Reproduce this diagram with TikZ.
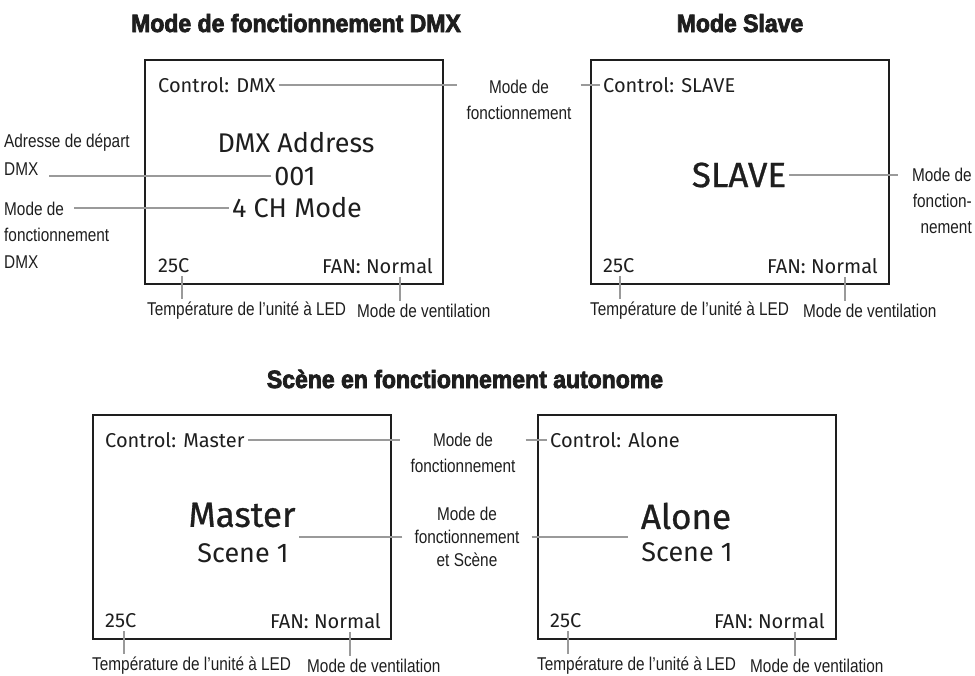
\documentclass[tikz,border=0pt]{standalone}
\usepackage{fontspec}
\setmainfont{Liberation Sans}
\newfontfamily\titlefont[FakeStretch=0.92,BoldFeatures={FakeBold=3}]{Liberation Sans}
\newfontfamily\lblfont[FakeStretch=0.83]{Liberation Sans}
\newfontfamily\lcdfont{Fira Sans}
\newfontfamily\lcdheavy[FakeBold=0.8]{Fira Sans}
\usepackage{xcolor}
\definecolor{leadgray}{HTML}{9A9A9A}
\definecolor{ink}{HTML}{1E1E1E}

\begin{document}
\begin{tikzpicture}[x=1pt,y=-1pt,
	lcd/.style={draw=ink,line width=2.6pt,minimum width=298pt,minimum height=224pt,inner sep=0pt},
	lcdsmall/.style={font=\lcdfont\fontsize{20}{24}\selectfont,text=ink,inner sep=3pt},
	lcdmid/.style={font=\lcdfont\fontsize{27}{32}\selectfont,text=ink,inner sep=3pt},
	lcdbig/.style={font=\lcdheavy\fontsize{35}{40}\selectfont,text=ink,inner sep=3pt},
	lbl/.style={font=\lblfont\fontsize{18.5}{26}\selectfont,text=ink,inner sep=3pt},
	heading/.style={font=\titlefont\bfseries\fontsize{25}{28}\selectfont,text=ink,anchor=base},
	conn/.style={draw=leadgray,line width=2pt}]
	\useasboundingbox (0,0) rectangle (975,675);
	% titles
	\node[heading] (headDMX) at (296,32) {Mode de fonctionnement DMX};
	\node[heading] (headSlave) at (740,32) {Mode Slave};
	\node[heading] (headAuto) at (465,388) {Scène en fonctionnement autonome};
	% DMX panel
	\node[lcd] (box1) at (294,172) {};
	\node[lcdsmall,anchor=west] (ctrl1) at (155,85) {Control: DMX};
	\node[lcdmid] (addr1) at (296,143) {DMX Address};
	\node[lcdmid] (num1) at (295,176) {001};
	\node[lcdmid] (mode1) at (297,208) {4 CH Mode};
	\node[lcdsmall,anchor=west] (temp1) at (155,266) {25C};
	\node[lcdsmall,anchor=east] (fan1) at (436,266) {FAN: Normal};
	\node[lbl,anchor=west,inner xsep=10pt] (lblA1) at (-6,143) {Adresse de départ};
	\node[lbl,anchor=west,inner xsep=10pt] (lblA2) at (-6,169) {DMX};
	\node[lbl,anchor=west,inner xsep=10pt] (lblM1) at (-6,209) {Mode de};
	\node[lbl,anchor=west,inner xsep=10pt] (lblM2) at (-6,235) {fonctionnement};
	\node[lbl,anchor=west,inner xsep=10pt] (lblM3) at (-6,262) {DMX};
	\node[lbl,anchor=west] (tl1) at (144,311) {Température de l’unité à LED};
	\node[lbl,anchor=west] (vl1) at (354,311) {Mode de ventilation};
	% Slave panel
	\node[lcd] (box2) at (740,172) {};
	\node[lcdsmall,anchor=west] (ctrl2) at (600,85) {Control: SLAVE};
	\node[lcdbig] (slave2) at (739,175) {SLAVE};
	\node[lcdsmall,anchor=west] (temp2) at (600,266) {25C};
	\node[lcdsmall,anchor=east] (fan2) at (881,266) {FAN: Normal};
	\node[lbl,anchor=east,align=right,inner xsep=14pt] (lblS) at (986,201) {Mode de\\fonction-\\nement};
	\node[lbl,anchor=west] (tl2) at (587,311) {Température de l’unité à LED};
	\node[lbl,anchor=west] (vl2) at (800,311) {Mode de ventilation};
	\node[lbl,align=center,inner xsep=9pt] (lblC12) at (519,100) {Mode de\\fonctionnement};
	% Master panel
	\node[lcd] (box3) at (242,527) {};
	\node[lcdsmall,anchor=west] (ctrl3) at (102,440) {Control: Master};
	\node[lcdbig] (big3) at (242,515) {Master};
	\node[lcdmid] (scene3) at (243,553) {Scene 1};
	\node[lcdsmall,anchor=west] (temp3) at (102,621) {25C};
	\node[lcdsmall,anchor=east] (fan3) at (384,621) {FAN: Normal};
	\node[lbl,anchor=west] (tl3) at (89,666) {Température de l’unité à LED};
	\node[lbl,anchor=west] (vl3) at (304,666) {Mode de ventilation};
	% Alone panel
	\node[lcd] (box4) at (687,527) {};
	\node[lcdsmall,anchor=west] (ctrl4) at (547,440) {Control: Alone};
	\node[lcdbig] (big4) at (686,516) {Alone};
	\node[lcdmid] (scene4) at (687,552) {Scene 1};
	\node[lcdsmall,anchor=west] (temp4) at (547,621) {25C};
	\node[lcdsmall,anchor=east] (fan4) at (828,621) {FAN: Normal};
	\node[lbl,anchor=west] (tl4) at (534,666) {Température de l’unité à LED};
	\node[lbl,anchor=west] (vl4) at (747,666) {Mode de ventilation};
	\node[lbl,align=center,inner xsep=10pt] (lblC34) at (463,453) {Mode de\\fonctionnement};
	\node[lbl,align=center,inner xsep=12pt,font=\lblfont\fontsize{18.5}{23}\selectfont] (lblSc) at (467,537) {Mode de\\fonctionnement\\et Scène};
	% leader lines
	\draw[conn] (ctrl1.east) -- (ctrl1.east -| lblC12.west);
	\draw[conn] (lblC12.east |- ctrl2.west) -- (ctrl2.west);
	\draw[conn] (num1.west) -- (num1.west -| lblA2.east);
	\draw[conn] (mode1.west) -- (mode1.west -| lblM1.east);
	\draw[conn] (slave2.east) -- (slave2.east -| lblS.west);
	\draw[conn] (ctrl3.east) -- (ctrl3.east -| lblC34.west);
	\draw[conn] (lblC34.east |- ctrl4.west) -- (ctrl4.west);
	\draw[conn] (lblSc.west) -- (lblSc.west -| big3.east);
	\draw[conn] (lblSc.east) -- ([xshift=-10pt]big4.west |- lblSc.east);
	% ticks
	\draw[conn] ([xshift=8pt]temp1.south) -- ([xshift=8pt]temp1.south |- tl1.north);
	\draw[conn] ([xshift=23pt]fan1.south) -- ([xshift=23pt]fan1.south |- vl1.north);
	\draw[conn] ([xshift=1pt]temp2.south) -- ([xshift=1pt]temp2.south |- tl2.north);
	\draw[conn] ([xshift=23pt]fan2.south) -- ([xshift=23pt]fan2.south |- vl2.north);
	\draw[conn] ([xshift=3pt]temp3.south) -- ([xshift=3pt]temp3.south |- tl3.north);
	\draw[conn] ([xshift=25pt]fan3.south) -- ([xshift=25pt]fan3.south |- vl3.north);
	\draw[conn] ([xshift=2pt]temp4.south) -- ([xshift=2pt]temp4.south |- tl4.north);
	\draw[conn] ([xshift=26pt]fan4.south) -- ([xshift=26pt]fan4.south |- vl4.north);
\end{tikzpicture}
\end{document}
